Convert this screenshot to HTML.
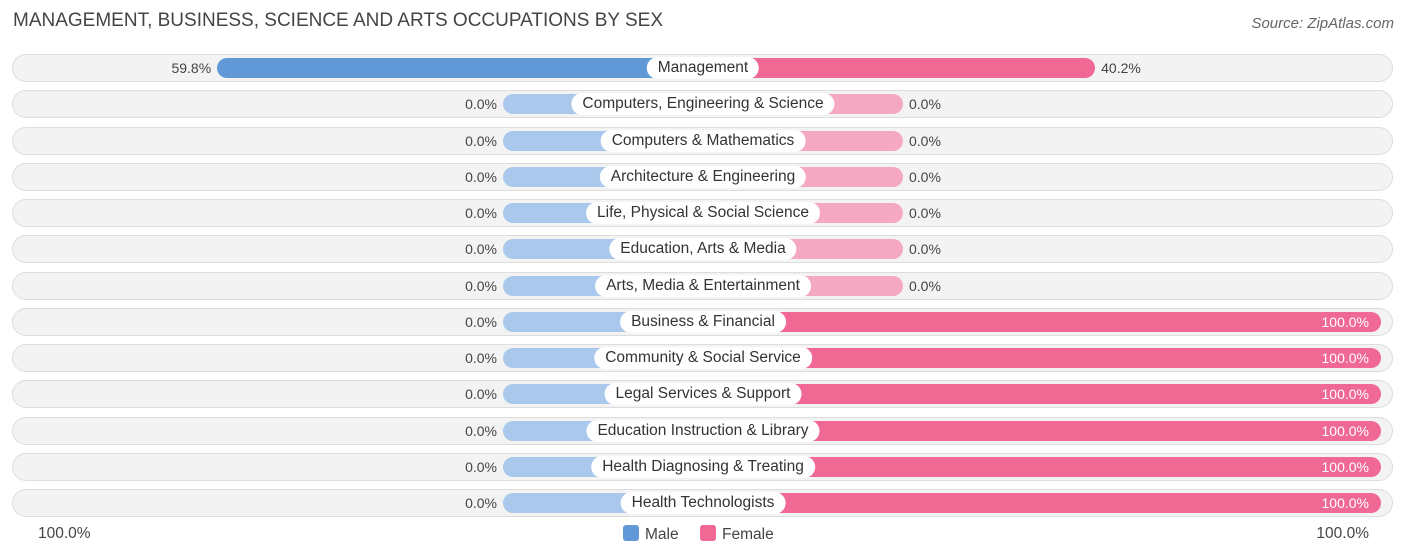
<!DOCTYPE html>
<html><head><meta charset="utf-8"><style>
body{margin:0;width:1406px;height:558px;background:#fff;font-family:"Liberation Sans",sans-serif;overflow:hidden;position:relative}
.title{position:absolute;left:13px;top:10px;font-size:19px;color:#444}
.src{position:absolute;right:12px;top:15px;font-size:15px;color:#666;font-style:italic}
.row{position:absolute;left:12px;width:1381px;height:28px;border-radius:14px;background:#f3f3f3;box-shadow:0 0 0 1px #ddd inset}
.bar{position:absolute;height:20px;border-radius:10px}
.lab{position:absolute;height:22px;line-height:22px;padding:0 11px;border-radius:11px;background:#fff;font-size:15.5px;color:#333;transform:translateX(-50%);white-space:nowrap}
.v{position:absolute;font-size:14px;color:#444;line-height:20px}
.vin{color:#fff}
.leg{position:absolute;top:525px;font-size:15.5px;color:#444}
.sw{display:inline-block;width:16px;height:16px;border-radius:3px;vertical-align:-2px;margin-right:6px}
</style></head><body>
<div class="title">MANAGEMENT, BUSINESS, SCIENCE AND ARTS OCCUPATIONS BY SEX</div>
<div class="src">Source: ZipAtlas.com</div>
<div id="chart"></div>
<div class="leg" style="left:38px">100.0%</div>
<div class="leg" style="right:37px">100.0%</div>
<div class="leg" style="left:623px"><span class="sw" style="background:#6199d8"></span>Male</div>
<div class="leg" style="left:700px"><span class="sw" style="background:#f06894"></span>Female</div>
<script>
const categories=["Management","Computers, Engineering & Science","Computers & Mathematics","Architecture & Engineering","Life, Physical & Social Science","Education, Arts & Media","Arts, Media & Entertainment","Business & Financial","Community & Social Service","Legal Services & Support","Education Instruction & Library","Health Diagnosing & Treating","Health Technologists"];
const male=[59.8,0,0,0,0,0,0,0,0,0,0,0,0];
const female=[40.2,0,0,0,0,0,0,100,100,100,100,100,100];
const C=703,STUB=200,SC=478,Y0=54,STEP=36.25;
const len=v=>STUB+v/100*SC;
const chart=document.getElementById('chart');
function mk(cls,css,txt){const e=document.createElement('div');e.className=cls;Object.assign(e.style,css);if(txt!=null)e.textContent=txt;chart.appendChild(e);return e;}
categories.forEach((c,i)=>{
 const y=Y0+i*STEP;
 const r=mk('row',{top:y+'px'});
 
 
 const ml=len(male[i]);
 const mb=mk('bar',{left:(C-ml)+'px',width:ml+'px',top:(y+4)+'px',background:male[i]>0?'#6199d8':'#a9c8ec'});
 
 
 const fl=len(female[i]);
 const fb=mk('bar',{left:C+'px',width:fl+'px',top:(y+4)+'px',background:female[i]>0?'#f06894':'#f5a8c2'});
 
 
 const mv=mk('v',{right:(1406-(C-ml)+6)+'px',top:(y+4)+'px'},male[i].toFixed(1)+'%');
 
 
 let fv;
 if(female[i]>=90){fv=mk('v vin',{right:(1406-(C+fl)+12)+'px',top:(y+4)+'px'},female[i].toFixed(1)+'%');}
 else{fv=mk('v',{left:(C+fl+6)+'px',top:(y+4)+'px'},female[i].toFixed(1)+'%');}
 
 
 const l=mk('lab',{left:C+'px',top:(y+3)+'px'},c);
 
 
});
</script>
</body></html>
